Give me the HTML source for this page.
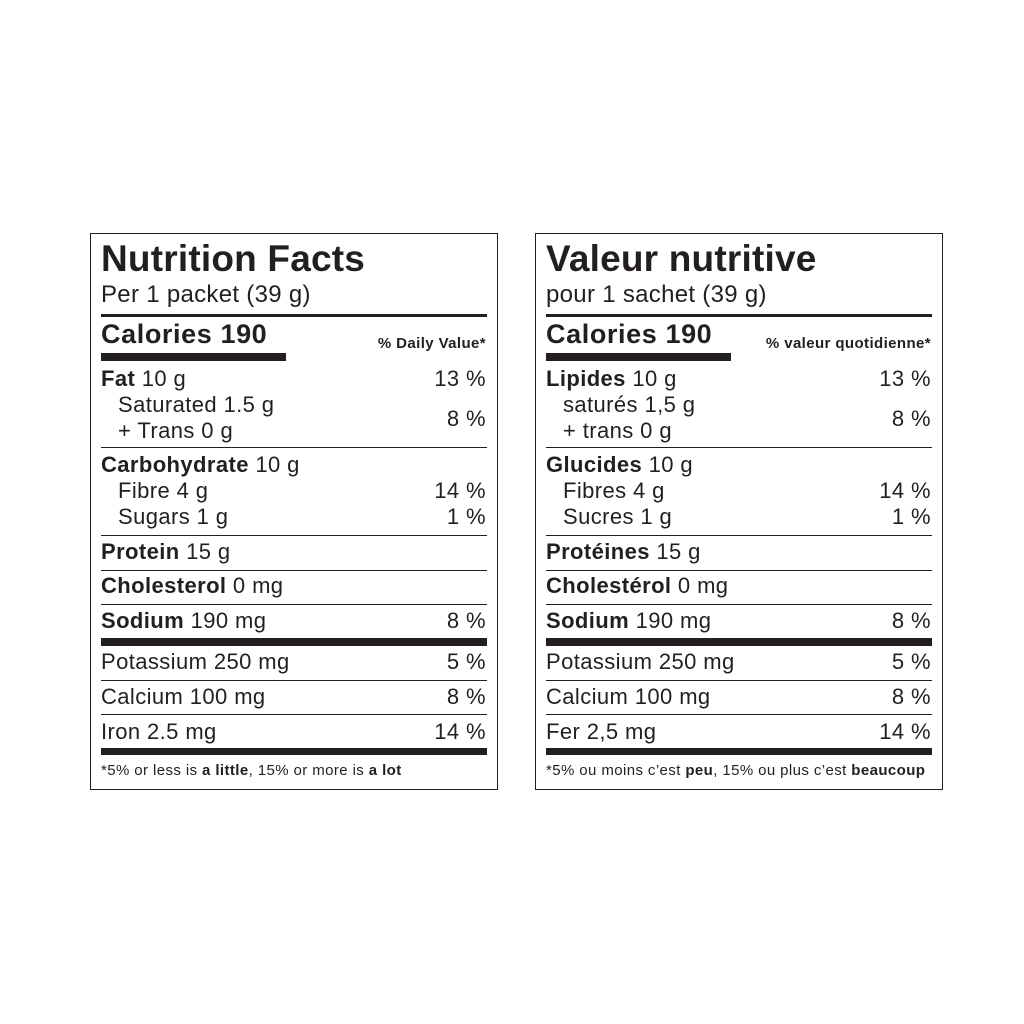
<!DOCTYPE html>
<html><head><meta charset="utf-8"><style>
body{margin:0;width:1024px;height:1024px;background:#fff;position:relative;font-family:"Liberation Sans",Arial,sans-serif;color:#231f20}
.p{position:absolute;top:233px;width:408px;height:557px;border:1px solid #231f20;box-sizing:border-box}
.p div{position:absolute;white-space:nowrap}
.t{left:10px;font-weight:bold;font-size:37px;line-height:40px;top:5px;letter-spacing:.2px}
.s{left:10px;font-size:24px;line-height:28px;top:47px;letter-spacing:.3px}
.r{left:10px;font-size:22px;line-height:24px;letter-spacing:.4px}
.i{left:27px}
.v{right:11px;font-size:22px;line-height:24px;letter-spacing:.4px}
.h{left:10px;width:386px;background:#231f20;height:1px}
b{font-weight:bold}
.c{left:10px;font-size:27px;font-weight:bold;line-height:30px;top:85px;letter-spacing:.6px}
.dv{right:11px;font-size:15px;font-weight:bold;line-height:18px;top:101px;letter-spacing:.4px}
.f{left:10px;font-size:15px;line-height:18px;top:528px;letter-spacing:.4px}
</style></head><body>
<div class="p" style="left:90px">
<div class="t">Nutrition Facts</div>
<div class="s">Per 1 packet (39 g)</div>
<div class="h" style="top:80px;height:3px"></div>
<div class="c">Calories 190</div>
<div class="dv">% Daily Value*</div>
<div class="h" style="top:119px;height:8px;width:185px"></div>
<div class="r" style="top:133px"><b>Fat</b> 10 g</div><div class="v" style="top:133px">13 %</div>
<div class="r i" style="top:159px">Saturated 1.5 g</div>
<div class="r i" style="top:185px">+ Trans 0 g</div><div class="v" style="top:173px">8 %</div>
<div class="h" style="top:213px"></div>
<div class="r" style="top:219px"><b>Carbohydrate</b> 10 g</div>
<div class="r i" style="top:245px">Fibre 4 g</div><div class="v" style="top:245px">14 %</div>
<div class="r i" style="top:271px">Sugars 1 g</div><div class="v" style="top:271px">1 %</div>
<div class="h" style="top:301px"></div>
<div class="r" style="top:306px"><b>Protein</b> 15 g</div>
<div class="h" style="top:336px"></div>
<div class="r" style="top:340px"><b>Cholesterol</b> 0 mg</div>
<div class="h" style="top:370px"></div>
<div class="r" style="top:375px"><b>Sodium</b> 190 mg</div><div class="v" style="top:375px">8 %</div>
<div class="h" style="top:404px;height:8px"></div>
<div class="r" style="top:416px">Potassium 250 mg</div><div class="v" style="top:416px">5 %</div>
<div class="h" style="top:446px"></div>
<div class="r" style="top:451px">Calcium 100 mg</div><div class="v" style="top:451px">8 %</div>
<div class="h" style="top:480px"></div>
<div class="r" style="top:486px">Iron 2.5 mg</div><div class="v" style="top:486px">14 %</div>
<div class="h" style="top:514px;height:7px"></div>
<div class="f">*5% or less is <b>a little</b>, 15% or more is <b>a lot</b></div>
</div>
<div class="p" style="left:535px">
<div class="t">Valeur nutritive</div>
<div class="s">pour 1 sachet (39 g)</div>
<div class="h" style="top:80px;height:3px"></div>
<div class="c">Calories 190</div>
<div class="dv">% valeur quotidienne*</div>
<div class="h" style="top:119px;height:8px;width:185px"></div>
<div class="r" style="top:133px"><b>Lipides</b> 10 g</div><div class="v" style="top:133px">13 %</div>
<div class="r i" style="top:159px">saturés 1,5 g</div>
<div class="r i" style="top:185px">+ trans 0 g</div><div class="v" style="top:173px">8 %</div>
<div class="h" style="top:213px"></div>
<div class="r" style="top:219px"><b>Glucides</b> 10 g</div>
<div class="r i" style="top:245px">Fibres 4 g</div><div class="v" style="top:245px">14 %</div>
<div class="r i" style="top:271px">Sucres 1 g</div><div class="v" style="top:271px">1 %</div>
<div class="h" style="top:301px"></div>
<div class="r" style="top:306px"><b>Protéines</b> 15 g</div>
<div class="h" style="top:336px"></div>
<div class="r" style="top:340px"><b>Cholestérol</b> 0 mg</div>
<div class="h" style="top:370px"></div>
<div class="r" style="top:375px"><b>Sodium</b> 190 mg</div><div class="v" style="top:375px">8 %</div>
<div class="h" style="top:404px;height:8px"></div>
<div class="r" style="top:416px">Potassium 250 mg</div><div class="v" style="top:416px">5 %</div>
<div class="h" style="top:446px"></div>
<div class="r" style="top:451px">Calcium 100 mg</div><div class="v" style="top:451px">8 %</div>
<div class="h" style="top:480px"></div>
<div class="r" style="top:486px">Fer 2,5 mg</div><div class="v" style="top:486px">14 %</div>
<div class="h" style="top:514px;height:7px"></div>
<div class="f">*5% ou moins c’est <b>peu</b>, 15% ou plus c’est <b>beaucoup</b></div>
</div>
</body></html>
